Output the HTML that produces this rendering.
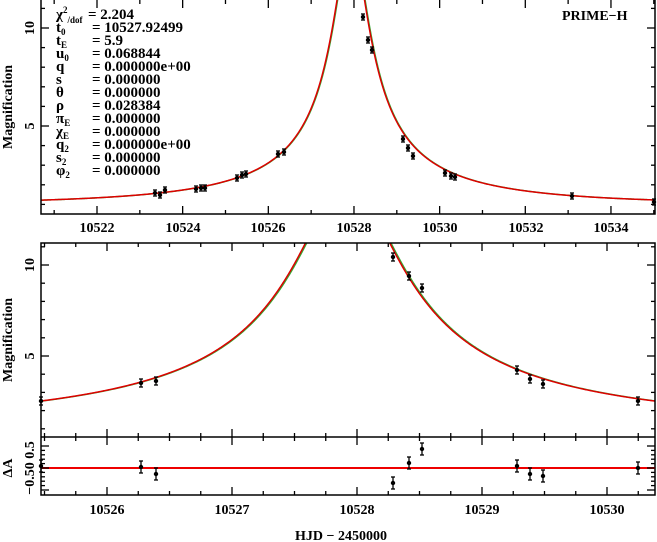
<!DOCTYPE html>
<html><head><meta charset="utf-8"><style>
body{margin:0;background:#fff;}
svg{display:block;font-family:"Liberation Serif",serif;font-weight:bold;}
</style></head><body>
<svg id="s" width="657" height="542" viewBox="0 0 657 542" xmlns="http://www.w3.org/2000/svg">
<g id="g"></g>
<g font-size="14" fill="#000">
<text x="97" y="232" text-anchor="middle">10522</text>
<text x="183" y="232" text-anchor="middle">10524</text>
<text x="268" y="232" text-anchor="middle">10526</text>
<text x="354" y="232" text-anchor="middle">10528</text>
<text x="440" y="232" text-anchor="middle">10530</text>
<text x="526" y="232" text-anchor="middle">10532</text>
<text x="611" y="232" text-anchor="middle">10534</text>
<text x="107" y="514" text-anchor="middle">10526</text>
<text x="232" y="514" text-anchor="middle">10527</text>
<text x="357" y="514" text-anchor="middle">10528</text>
<text x="482" y="514" text-anchor="middle">10529</text>
<text x="607" y="514" text-anchor="middle">10530</text>
<text x="341" y="540" text-anchor="middle">HJD − 2450000</text>
<text x="562" y="20">PRIME−H</text>
<text transform="translate(34,28) rotate(-90)" text-anchor="middle">10</text>
<text transform="translate(34,126) rotate(-90)" text-anchor="middle">5</text>
<text transform="translate(34,265) rotate(-90)" text-anchor="middle">10</text>
<text transform="translate(34,356) rotate(-90)" text-anchor="middle">5</text>
<text transform="translate(12,107) rotate(-90)" text-anchor="middle">Magnification</text>
<text transform="translate(12,340) rotate(-90)" text-anchor="middle">Magnification</text>
<text transform="translate(12,468) rotate(-90)" text-anchor="middle">ΔA</text>
<text transform="translate(34,468) rotate(-90)" text-anchor="middle">−0.50 0.5</text>
</g>
<g font-size="15" fill="#000">
<text x="56" y="19">χ<tspan font-size="9" dy="-6">2</tspan><tspan font-size="9" dy="10">/dof</tspan></text><text x="88" y="19">= 2.204</text>
<text x="56" y="32">t<tspan font-size="9" dy="3">0</tspan></text><text x="92" y="32">= 10527.92499</text>
<text x="56" y="45">t<tspan font-size="9" dy="3">E</tspan></text><text x="92" y="45">= 5.9</text>
<text x="56" y="58">u<tspan font-size="9" dy="3">0</tspan></text><text x="92" y="58">= 0.068844</text>
<text x="56" y="71">q</text><text x="92" y="71">= 0.000000e+00</text>
<text x="56" y="84">s</text><text x="92" y="84">= 0.000000</text>
<text x="56" y="97">θ</text><text x="92" y="97">= 0.000000</text>
<text x="56" y="110">ρ</text><text x="92" y="110">= 0.028384</text>
<text x="56" y="123">π<tspan font-size="9" dy="3">E</tspan></text><text x="92" y="123">= 0.000000</text>
<text x="56" y="136">χ<tspan font-size="9" dy="3">E</tspan></text><text x="92" y="136">= 0.000000</text>
<text x="56" y="149">q<tspan font-size="9" dy="3">2</tspan></text><text x="92" y="149">= 0.000000e+00</text>
<text x="56" y="162">s<tspan font-size="9" dy="3">2</tspan></text><text x="92" y="162">= 0.000000</text>
<text x="56" y="175">φ<tspan font-size="9" dy="3">2</tspan></text><text x="92" y="175">= 0.000000</text>
</g>
</svg>
<script>
var g=document.getElementById('g'),NS='http://www.w3.org/2000/svg';
function el(t,a){var e=document.createElementNS(NS,t);for(var k in a)e.setAttribute(k,a[k]);g.appendChild(e);return e;}
function A(t){var u=Math.sqrt(0.068844*0.068844+Math.pow((t-10527.92499)/5.9,2));return (u*u+2)/(u*Math.sqrt(u*u+4));}
var P1={x0:41,x1:655,y0:0,y1:214,tx:function(t){return 97+(t-10522)*42.83},ty:function(a){return 126-(a-5)*19.6}};
var P2={x0:41,x1:655,y0:243,y1:437,tx:function(t){return 107+(t-10526)*125},ty:function(a){return 356-(a-5)*18.2}};
function curve(P,t0,t1,col,dx){var d='';for(var i=0;i<=1200;i++){var t=t0+(t1-t0)*i/1200;var y=P.ty(A(t));if(y<P.y0-5)y=P.y0-5;d+=(i?'L':'M')+(P.tx(t)+dx).toFixed(2)+' '+y.toFixed(2);}
el('path',{d:d,fill:'none',stroke:col,'stroke-width':1.5});}
var cp=el('clipPath',{id:'c1'});var r=document.createElementNS(NS,'rect');r.setAttribute('x',41);r.setAttribute('y',0);r.setAttribute('width',614);r.setAttribute('height',214);cp.appendChild(r);
var cp2=el('clipPath',{id:'c2'});var r2=document.createElementNS(NS,'rect');r2.setAttribute('x',41);r2.setAttribute('y',243);r2.setAttribute('width',614);r2.setAttribute('height',194);cp2.appendChild(r2);
var g1=el('g',{'clip-path':'url(#c1)'});var g2=el('g',{'clip-path':'url(#c2)'});
var save=g;g=g1;curve(P1,10520.5,10535.2,'#3a3',0.6);curve(P1,10520.5,10535.2,'#d00',0);
g=g2;curve(P2,10525.3,10530.5,'#3a3',1.2);curve(P2,10525.3,10530.5,'#d00',0);g=save;
el('path',{d:'M41 0V214H655V0',fill:'none',stroke:'#000','stroke-width':1.5});
el('rect',{x:41,y:243,width:614,height:252,fill:'none',stroke:'#000','stroke-width':1.5});
el('line',{x1:41,y1:437,x2:655,y2:437,stroke:'#000','stroke-width':1.5});
el('line',{x1:41,y1:468,x2:655,y2:468,stroke:'#e00','stroke-width':2});
function tk(x1,y1,x2,y2){el('line',{x1:x1,y1:y1,x2:x2,y2:y2,stroke:'#000','stroke-width':1.3});}
for(var t=10521;t<=10535;t++){var x=P1.tx(t),L=(t%2==0)?8:4;tk(x,214,x,214-L);tk(x,0,x,L);}
for(var a=1;a<=11;a++){var y=P1.ty(a),L=(a%5==0)?8:4;tk(41,y,41+L,y);tk(655,y,655-L,y);}
for(var i=0;i<=20;i++){var t=10525.5+i*0.25;var x=P2.tx(t);if(x<41||x>655)continue;var L=(Math.abs(t-Math.round(t))<0.01)?8:4;
 tk(x,437,x,437-L);tk(x,243,x,243+L);tk(x,437,x,437+L);tk(x,495,x,495-L);}
for(var a=1;a<=11;a++){var y=P2.ty(a),L=(a%5==0)?8:4;tk(41,y,41+L,y);tk(655,y,655-L,y);}
for(var v=-0.5;v<=0.51;v+=0.1){var y=468-v*44,L=(Math.abs(v*2-Math.round(v*2))<0.01)?8:4;tk(41,y,41+L,y);tk(655,y,655-L,y);}
function pt(x,y,e){tk(x,y-e,x,y+e);tk(x-2,y-e,x+2,y-e);tk(x-2,y+e,x+2,y+e);el('circle',{cx:x,cy:y,r:2.2,fill:'#000'});}
[[155,193],[160,195],[165,190],[196,189],[201,188],[205,188],[237,178],[242,175],[246,174],[278,154],[284,152],[363,17],[368,40],[372,50],[403,139],[408,148],[413,156],[445,173],[451,176],[455,177],[572,196],[654,202]].forEach(function(p){pt(p[0],p[1],3);});
[[41,401],[141,383],[156,381],[393,257],[409,276],[422,288],[517,370],[530,379],[543,384],[638,401]].forEach(function(p){pt(p[0],p[1],4);});
[[41,466],[141,467],[156,474],[393,483],[409,463],[422,449],[517,466],[530,474],[543,476],[638,468]].forEach(function(p){pt(p[0],p[1],6);});
</script>
</body></html>
